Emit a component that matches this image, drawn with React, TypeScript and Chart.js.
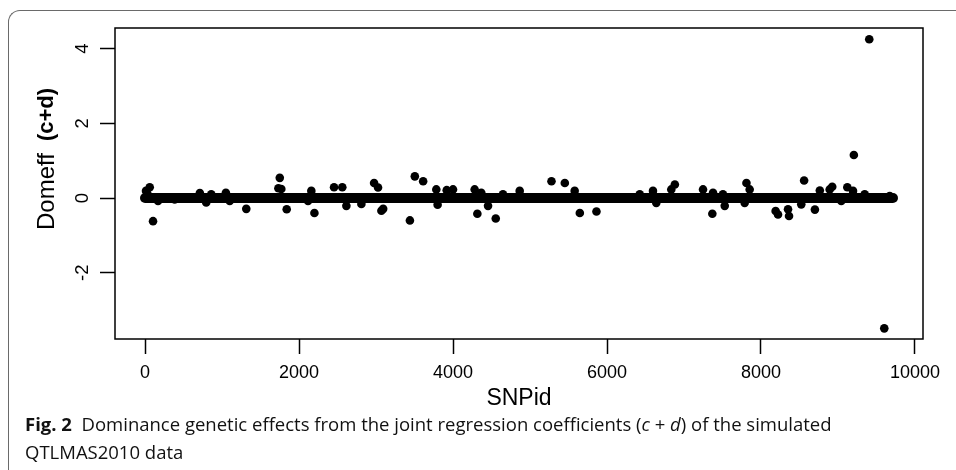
import React, { useEffect, useRef } from 'react';
import { Chart, registerables } from 'chart.js';

Chart.register(...registerables);

// SNP ids (x) and dominance effects (y) of the points that stand out of the dense band
const snpIds = [
  13, 30, 61, 104, 169, 385, 712, 795, 860, 1050, 1100, 1315, 1732, 1750, 1770, 1840,
  2117, 2160, 2200, 2455, 2562, 2615, 2810, 2975, 3026, 3070, 3093, 3440, 3504, 3612,
  3783, 3800, 3918, 4000, 4281, 4316, 4367, 4455, 4555, 4649, 4866, 5279, 5452, 5580,
  5647, 5863, 6425, 6597, 6640, 6835, 6881, 7247, 7368, 7377, 7506, 7529, 7788, 7811,
  7853, 8190, 8221, 8351, 8364, 8523, 8560, 8700, 8764, 8892, 8925, 9043, 9121, 9195,
  9206, 9347, 9406, 9601, 9672,
];
const domEff = [
  0.19, 0.12, 0.29, -0.62, -0.08, -0.04, 0.13, -0.12, 0.1, 0.14, -0.08, -0.29, 0.26, 0.54, 0.24, -0.3,
  -0.08, 0.19, -0.4, 0.29, 0.29, -0.21, -0.16, 0.4, 0.28, -0.34, -0.29, -0.6, 0.58, 0.45,
  0.23, -0.18, 0.21, 0.23, 0.23, -0.42, 0.14, -0.21, -0.55, 0.1, 0.19, 0.45, 0.4, 0.19,
  -0.4, -0.36, 0.1, 0.19, -0.13, 0.23, 0.36, 0.23, -0.42, 0.14, 0.1, -0.21, -0.13, 0.4,
  0.23, -0.35, -0.44, -0.3, -0.48, -0.17, 0.47, -0.31, 0.2, 0.23, 0.3, -0.08, 0.29, 0.19,
  1.15, 0.1, 4.25, -3.49, 0.05,
];

// the thousands of SNPs with effects ~0 form a solid band from the first to the last SNP
const bandIds = [0, 9714];
const bandValues = [0, 0];

const xTicks = [0, 2000, 4000, 6000, 8000, 10000];
const yTicks = [-2, 0, 2, 4];
const xRange = [-390, 10104];
const yRange = [-3.775, 4.552];

const xTitle = 'SNPid';
const yTitleMain = 'Domeff';
const yTitleBold = '(c+d)';

const FONT = '"Liberation Sans", Arial, Helvetica, sans-serif';
const CAP_FONT = '"Open Sans", "Noto Sans", sans-serif';

export default function App() {
  const ref = useRef<HTMLCanvasElement>(null);

  useEffect(() => {
    const canvas = ref.current;
    if (!canvas) return;

    const rPlugin = {
      id: 'rstyle',
      afterDraw(chart: any) {
        const { ctx, chartArea: a, scales } = chart;
        ctx.save();
        ctx.strokeStyle = '#000';
        ctx.lineWidth = 1.5;
        ctx.strokeRect(a.left, a.top, a.right - a.left, a.bottom - a.top);

        ctx.fillStyle = '#000';
        ctx.textAlign = 'center';
        ctx.textBaseline = 'middle';
        for (const v of yTicks) {
          const y = scales.y.getPixelForValue(v);
          ctx.save();
          ctx.translate(82, y);
          ctx.rotate(-Math.PI / 2);
          ctx.font = `18.5px ${FONT}`;
          ctx.fillText(String(v), 0, 1);
          ctx.restore();
        }

        ctx.save();
        ctx.translate(47, 230);
        ctx.rotate(-Math.PI / 2);
        ctx.textAlign = 'left';
        ctx.textBaseline = 'middle';
        ctx.font = `24px ${FONT}`;
        ctx.fillText(yTitleMain, 0, 0);
        const w = ctx.measureText(yTitleMain).width;
        ctx.font = `bold 22px ${FONT}`;
        ctx.fillText(yTitleBold, w + 12, 0);
        ctx.restore();

        ctx.restore();
      },
    };

    const tickGrid = {
      display: true,
      drawOnChartArea: false,
      drawTicks: true,
      tickLength: 15,
      tickWidth: 1.5,
      tickColor: '#000',
      color: '#000',
    };

    const chart = new Chart(canvas, {
      type: 'scatter',
      data: {
        datasets: [
          {
            type: 'line',
            label: 'band',
            data: bandIds.map((x, i) => ({ x, y: bandValues[i] })),
            borderColor: '#000',
            borderWidth: 10,
            borderCapStyle: 'round',
            pointRadius: 0,
            fill: false,
          } as any,
          {
            type: 'scatter',
            label: 'SNP',
            data: snpIds.map((x, i) => ({ x, y: domEff[i] })),
            backgroundColor: '#000',
            borderColor: '#000',
            borderWidth: 0,
            pointRadius: 4.3,
            pointHoverRadius: 4.3,
          },
        ],
      },
      options: {
        animation: false,
        responsive: false,
        maintainAspectRatio: false,
        events: [],
        layout: { padding: { top: 28, right: 33, bottom: 8, left: 0 } },
        plugins: {
          legend: { display: false },
          tooltip: { enabled: false },
          title: { display: false },
        },
        scales: {
          x: {
            type: 'linear',
            min: xRange[0],
            max: xRange[1],
            afterBuildTicks: (s: any) => {
              s.ticks = xTicks.map((v) => ({ value: v }));
            },
            afterFit: (s: any) => {
              s.height = 73;
            },
            grid: tickGrid,
            border: { display: false },
            ticks: {
              color: '#000',
              font: { family: FONT, size: 18 },
              padding: 8,
              maxRotation: 0,
              minRotation: 0,
              autoSkip: false,
              callback: (v: any) => String(v),
            },
            title: {
              display: true,
              text: xTitle,
              color: '#000',
              font: { family: FONT, size: 23 },
              padding: { top: 0, bottom: 0 },
            },
          },
          y: {
            type: 'linear',
            min: yRange[0],
            max: yRange[1],
            afterBuildTicks: (s: any) => {
              s.ticks = yTicks.map((v) => ({ value: v }));
            },
            afterFit: (s: any) => {
              s.width = 115;
            },
            grid: tickGrid,
            border: { display: false },
            ticks: { display: false },
          },
        },
      },
      plugins: [rPlugin],
    } as any);

    return () => chart.destroy();
  }, []);

  return (
    <div style={{ position: 'absolute', left: 0, top: 0, width: 956, height: 470, overflow: 'hidden', background: '#fff' }}>
      <div
        style={{
          position: 'absolute',
          left: 8,
          top: 10,
          width: 1000,
          height: 520,
          borderTop: '1.5px solid #6a6a6a',
          borderLeft: '1.5px solid #6a6a6a',
          borderTopLeftRadius: 12,
          boxSizing: 'border-box',
        }}
      />
      <canvas ref={ref} width={956} height={420} style={{ position: 'absolute', left: 0, top: 0, width: 956, height: 420 }} />
      <div
        style={{
          position: 'absolute',
          left: 25,
          top: 410,
          fontFamily: CAP_FONT,
          fontSize: 18.5,
          lineHeight: '28px',
          color: '#111',
          whiteSpace: 'nowrap',
        }}
      >
        <b>Fig. 2</b>
        {'\u00a0\u00a0'}Dominance genetic effects from the joint regression coefficients (<i>c</i> + <i>d</i>) of the simulated
        <br />
        QTLMAS2010 data
      </div>
    </div>
  );
}
